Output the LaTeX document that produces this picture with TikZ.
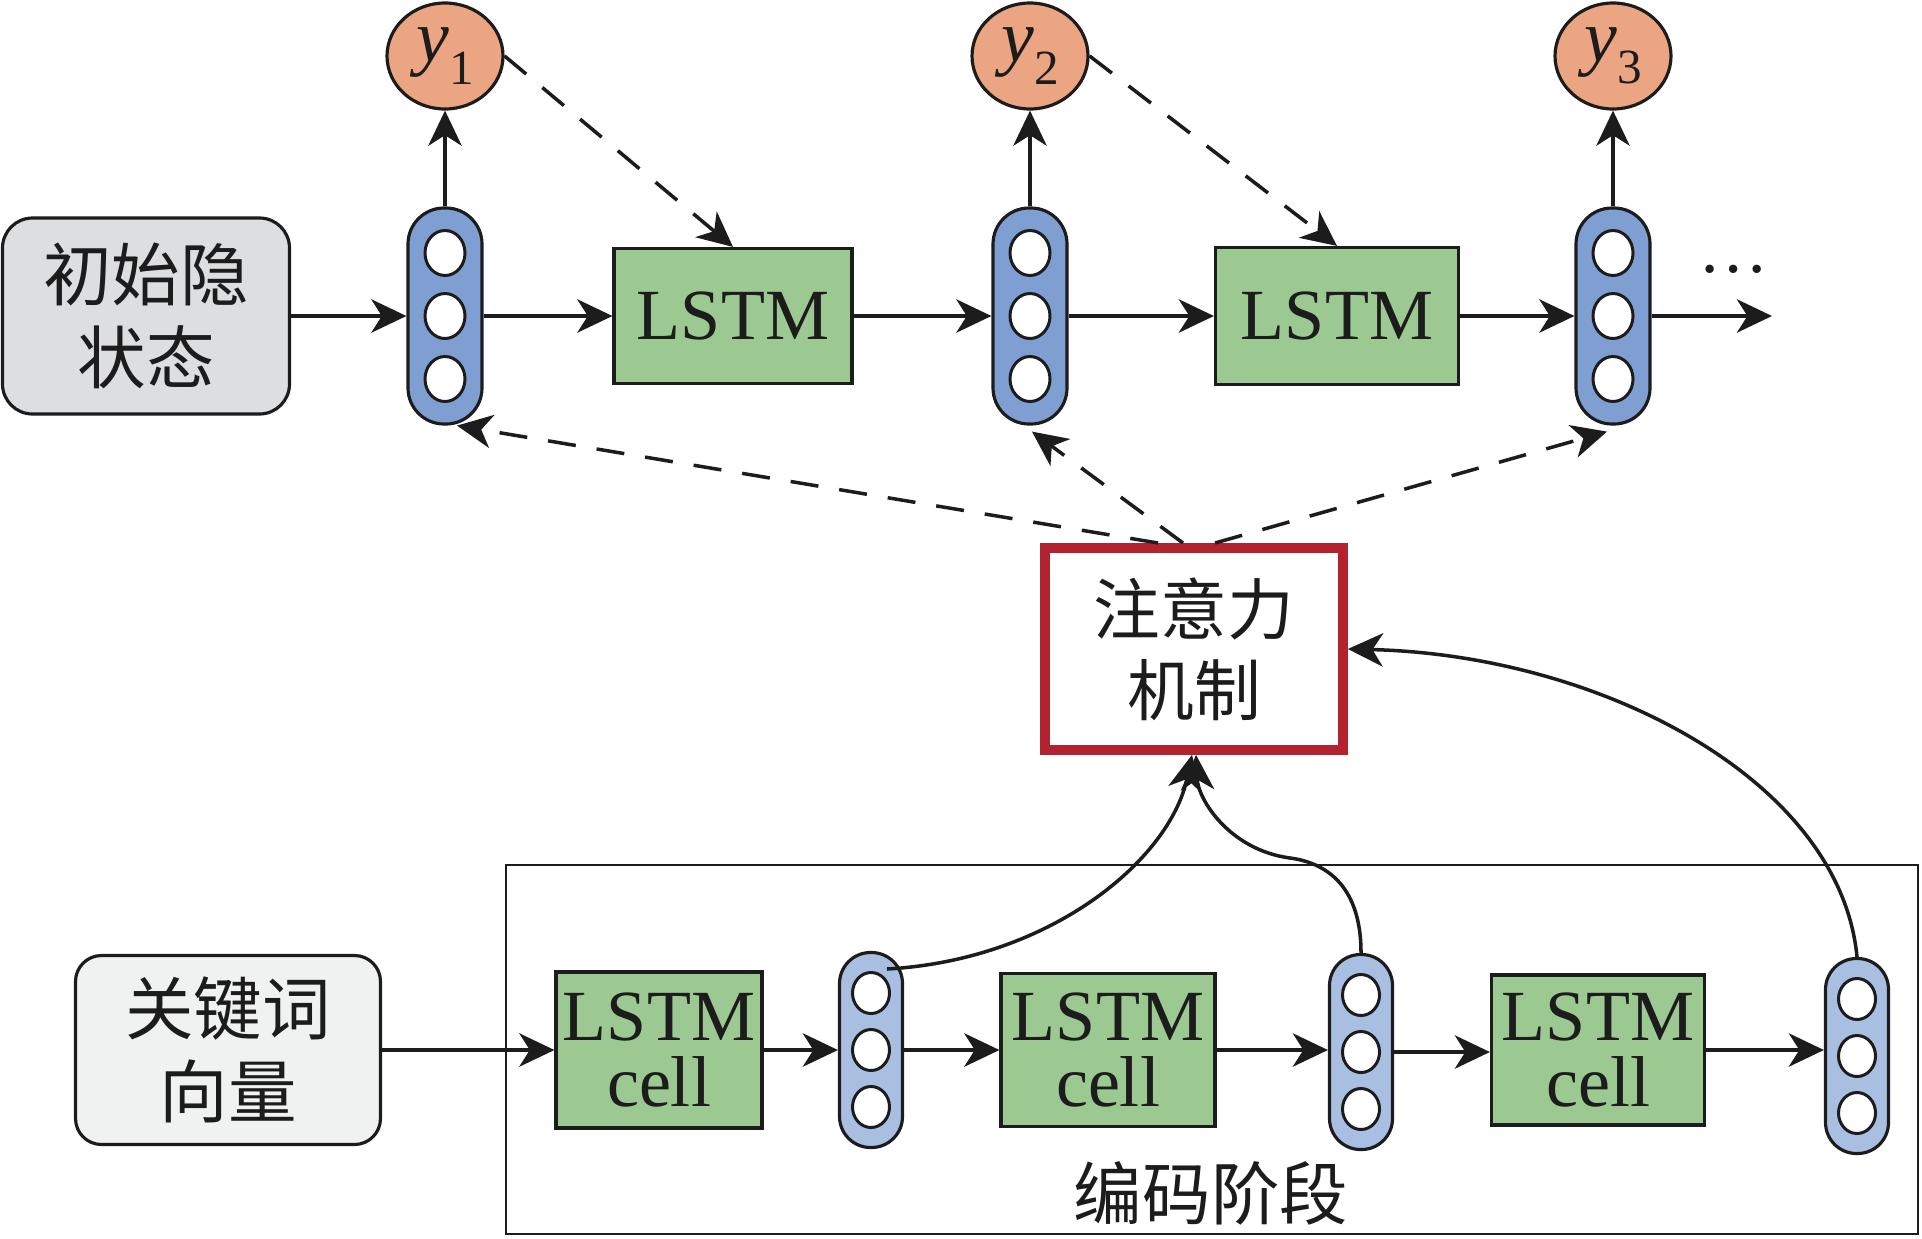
\documentclass[tikz,border=0pt]{standalone}
\usepackage{fontspec}
\setmainfont{Liberation Serif}
\newfontfamily\cjk{Noto Sans CJK SC}
\usetikzlibrary{arrows.meta,calc,shapes.geometric}
\definecolor{linec}{HTML}{1C1C1C}
\definecolor{orangec}{HTML}{EBA582}
\definecolor{bluetop}{HTML}{7F9FD2}
\definecolor{bluebot}{HTML}{A9BFE2}
\definecolor{greenc}{HTML}{9CC891}
\definecolor{grayc}{HTML}{DCDEE0}
\definecolor{lightc}{HTML}{F0F1F1}
\definecolor{redc}{HTML}{B3232F}
\def\pu{0.02cm}
\newcommand\topvec[3]{%
  \node[vecbox, fill=bluetop, minimum width={74*\pu}, minimum height={216*\pu}, rounded corners={36*\pu}] (#1) at (#2,#3) {};
  \node[cirtop] (#1a) at (#2,#3-63) {};
  \node[cirtop] (#1b) at (#2,#3) {};
  \node[cirtop] (#1c) at (#2,#3+63) {};
}
\newcommand\botvec[3]{%
  \node[vecbox, fill=bluebot, minimum width={63*\pu}, minimum height={195*\pu}, rounded corners={31*\pu}] (#1) at (#2,#3) {};
  \node[cirbot] (#1a) at (#2,#3-57) {};
  \node[cirbot] (#1b) at (#2,#3) {};
  \node[cirbot] (#1c) at (#2,#3+57) {};
}
\begin{document}
\begin{tikzpicture}[x=0.02cm,y=-0.02cm, line width=2pt, draw=linec, text=linec,
  >={Stealth[length=20pt,width=19pt,inset=6pt]},
  every node/.style={inner sep=0pt},
  vecbox/.style={draw=linec, line width=1.8pt},
  cirtop/.style={ellipse, draw=linec, fill=white, line width=1.7pt, minimum width={40*\pu}, minimum height={45*\pu}},
  cirbot/.style={ellipse, draw=linec, fill=white, line width=1.7pt, minimum width={37*\pu}, minimum height={41*\pu}},
  lstm/.style={draw=linec, fill=greenc, line width=1.8pt, align=center, font=\fontsize{41}{38}\selectfont},
  cn/.style={align=center, font=\cjk\fontsize{39}{47}\selectfont},
  ynode/.style={ellipse, draw=linec, fill=orangec, line width=1.8pt, minimum width={116*\pu}, minimum height={106*\pu}, font=\fontsize{42}{42}\selectfont},
  arr/.style={->, line width=2pt},
  darr/.style={->, line width=2pt, dash pattern=on 16pt off 12pt}
]
\useasboundingbox (0,0) rectangle (1922,1238);

% ---------- decoder row ----------
\node[cn, draw=linec, fill=grayc, line width=1.8pt, rounded corners={30*\pu}, minimum width={287*\pu}, minimum height={196*\pu}] (init) at (146,316) {初始隐\\状态};
\topvec{V1}{445}{316}
\topvec{V2}{1030}{316}
\topvec{V3}{1613}{316}
\node[lstm, minimum width={238*\pu}, minimum height={135*\pu}] (L1) at (733,316) {LSTM};
\node[lstm, minimum width={243*\pu}, minimum height={137*\pu}] (L2) at (1337,316) {LSTM};
\node[ynode] (y1) at (445,56) {\itshape y\raisebox{-0.3em}{\upshape\fontsize{28}{28}\selectfont 1}};
\node[ynode] (y2) at (1030,56) {\itshape y\raisebox{-0.3em}{\upshape\fontsize{28}{28}\selectfont 2}};
\node[ynode] (y3) at (1613,56) {\itshape y\raisebox{-0.3em}{\upshape\fontsize{28}{28}\selectfont 3}};
\node[anchor=base, font=\fontsize{40}{40}\selectfont] (dots) at (1734,272) {…};
\coordinate (vend) at (1772,316);

\draw[arr] (init.east) -- (V1.west);
\draw[arr] (V1.east) -- (L1.west);
\draw[arr] (L1.east) -- (V2.west);
\draw[arr] (V2.east) -- (L2.west);
\draw[arr] (L2.east) -- (V3.west);
\draw[arr] (V3.east) -- (vend);
\draw[arr] (V1.north) -- (y1.south);
\draw[arr] (V2.north) -- (y2.south);
\draw[arr] (V3.north) -- (y3.south);

\draw[darr] (y1.east) -- (L1.north);
\draw[darr] (y2.east) -- (L2.north);

% ---------- attention ----------
\node[cn, draw=redc, line width=5.5pt, fill=white, minimum width={298*\pu}, minimum height={202*\pu}, font=\cjk\fontsize{38}{46}\selectfont] (att) at (1194,649) {注意力\\机制};
\coordinate (a1) at (1158,543);
\coordinate (a2) at (1183,543);
\coordinate (a3) at (1215,543);
\draw[darr] (a1) -- ($(V1.south)+(12,0)$);
\draw[darr] (a2) -- ($(V2.south)+(2,6)$);
\draw[darr] (a3) -- ($(V3.south)+(-6,6)$);

% ---------- encoder ----------
\node[draw=linec, line width=1.5pt, minimum width={1412*\pu}, minimum height={369*\pu}] (frame) at (1212,1049.5) {};
\node[cn, draw=linec, fill=lightc, line width=1.8pt, rounded corners={26*\pu}, minimum width={305*\pu}, minimum height={189*\pu}] (kw) at (228,1050) {关键词\\向量};
\node[lstm, minimum width={206*\pu}, minimum height={156*\pu}] (C1) at (659,1050) {LSTM\\cell};
\node[lstm, minimum width={214*\pu}, minimum height={153*\pu}] (C2) at (1108,1050) {LSTM\\cell};
\node[lstm, minimum width={213*\pu}, minimum height={150*\pu}] (C3) at (1598,1050) {LSTM\\cell};
\botvec{E1}{871}{1050}
\botvec{E2}{1361}{1052}
\botvec{E3}{1857}{1056}
\node[cn] (enc) at (1211,1193) {编码阶段};

\draw[arr] (kw.east) -- (C1.west);
\draw[arr] (C1.east) -- (C1.east -| E1.west);
\draw[arr] (E1.east) -- (E1.east -| C2.west);
\draw[arr] (C2.east) -- (C2.east -| E2.west);
\draw[arr] (E2.east) -- (E2.east -| C3.west);
\draw[arr] (C3.east) -- (C3.east -| E3.west);

\coordinate (e1s) at ($(E1)+(16,-81)$);
\draw[arr] (e1s) .. controls (1050,960) and (1170,860) .. ($(att.south)+(-2,0)$);
\draw[arr] (E2.north) .. controls (1361,880) and (1320,862) .. (1290,858) .. controls (1230,850) and (1198,800) .. ($(att.south)+(2,0)$);
\draw[arr] (E3.north) .. controls (1840,780) and (1600,655) .. (att.east);
\end{tikzpicture}
\end{document}
